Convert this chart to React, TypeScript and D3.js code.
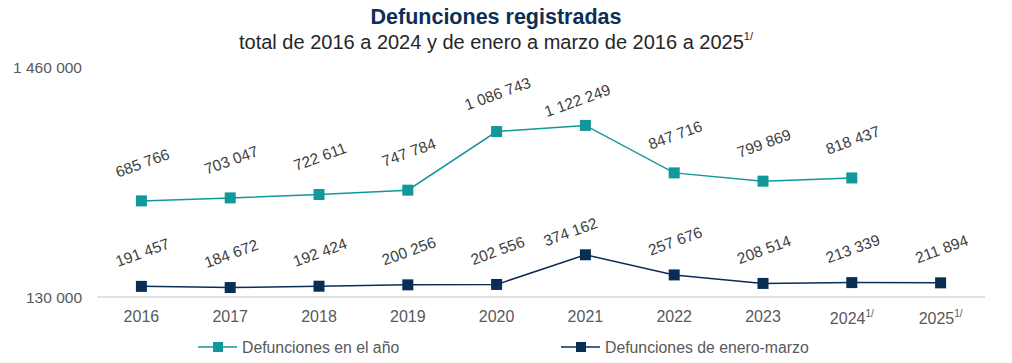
import React from "react";
import * as d3 from "d3";

const years = ["2016", "2017", "2018", "2019", "2020", "2021", "2022", "2023", "2024", "2025"];
const yearNotes = ["", "", "", "", "", "", "", "", "1/", "1/"];
const annualDeaths: (number | null)[] = [685766, 703047, 722611, 747784, 1086743, 1122249, 847716, 799869, 818437, null];
const janMarDeaths: number[] = [191457, 184672, 192424, 200256, 202556, 374162, 257676, 208514, 213339, 211894];
const yTicks = [130000, 1460000];

const seriesNames = ["Defunciones en el año", "Defunciones de enero-marzo"];

// label layout tweaks (styling, not data)
const upperNudge: Record<number, [number, number]> = { 5: [-9, 13] };
const lowerNudge: Record<number, [number, number]> = { 5: [-16, 11] };

const W = 1012;
const H = 363;
const TEAL = "#12979a";
const NAVY = "#0a2d55";
const FONT = "'Liberation Sans', Arial, sans-serif";

const fmt = (v: number) => d3.format(",")(v).replace(/,/g, " ");

export default function App() {
  const x = d3.scaleBand<string>().domain(years).range([97, 985]);
  const cx = (i: number) => (x(years[i]) as number) + x.bandwidth() / 2;
  const y = d3.scaleLinear().domain([130000, 1460000]).range([297, 67]);

  const line = d3
    .line<[number, number | null]>()
    .defined((d) => d[1] != null)
    .x((d) => cx(d[0]))
    .y((d) => y(d[1] as number));

  const upperPts = annualDeaths.map((v, i) => [i, v] as [number, number | null]);
  const lowerPts = janMarDeaths.map((v, i) => [i, v] as [number, number | null]);

  const ms = 11;

  const renderSeries = (
    pts: [number, number | null][],
    color: string,
    baseDy: number,
    nudge: Record<number, [number, number]>
  ) => (
    <g>
      <path d={line(pts) || ""} fill="none" stroke={color} strokeWidth={1.5} />
      {pts
        .filter((p) => p[1] != null)
        .map(([i, v]) => {
          const px = cx(i);
          const py = y(v as number);
          const [ndx, ndy] = nudge[i] || [0, 0];
          const lx = px + 1 + ndx;
          const ly = py + baseDy + ndy;
          return (
            <g key={i}>
              <rect x={px - ms / 2} y={py - ms / 2} width={ms} height={ms} fill={color} />
              <text
                x={lx}
                y={ly}
                transform={`rotate(-20 ${lx} ${ly})`}
                textAnchor="middle"
                dominantBaseline="central"
                fontSize={15.5}
                fill="#404040"
              >
                {fmt(v as number)}
              </text>
            </g>
          );
        })}
    </g>
  );

  return (
    <svg
      width={W}
      height={H}
      style={{ position: "absolute", left: 0, top: 0, background: "#fff" }}
      fontFamily={FONT}
    >
      <text x={496} y={24} textAnchor="middle" fontSize={21.5} fontWeight="bold" fill="#0d2f55">
        Defunciones registradas
      </text>
      <text x={496} y={49} textAnchor="middle" fontSize={20} fill="#262626">
        total de 2016 a 2024 y de enero a marzo de 2016 a 2025
        <tspan fontSize={11} dy={-9}>1/</tspan>
      </text>

      {yTicks.map((t) => (
        <text key={t} x={82} y={y(t)} textAnchor="end" dominantBaseline="central" fontSize={15.5} fill="#595959">
          {fmt(t)}
        </text>
      ))}

      <line x1={97} x2={985} y1={y(130000)} y2={y(130000)} stroke="#d9d9d9" strokeWidth={1.5} />

      {years.map((yr, i) => (
        <text
          key={yr}
          x={cx(i)}
          y={yearNotes[i] ? 324 : 322}
          textAnchor="middle"
          fontSize={16}
          fill="#595959"
        >
          {yr}
          {yearNotes[i] && (
            <tspan fontSize={10} dy={-7}>
              {yearNotes[i]}
            </tspan>
          )}
        </text>
      ))}

      {renderSeries(upperPts, TEAL, -38, upperNudge)}
      {renderSeries(lowerPts, NAVY, -34, lowerNudge)}

      {/* legend */}
      {[
        { name: seriesNames[0], color: TEAL, x0: 198 },
        { name: seriesNames[1], color: NAVY, x0: 561 },
      ].map((l) => (
        <g key={l.name}>
          <line x1={l.x0} x2={l.x0 + 39} y1={347} y2={347} stroke={l.color} strokeWidth={1.5} />
          <rect x={l.x0 + 20 - 5} y={347 - 5} width={10} height={10} fill={l.color} />
          <text x={l.x0 + 44} y={347} dominantBaseline="central" fontSize={15.8} fill="#595959">
            {l.name}
          </text>
        </g>
      ))}
    </svg>
  );
}
